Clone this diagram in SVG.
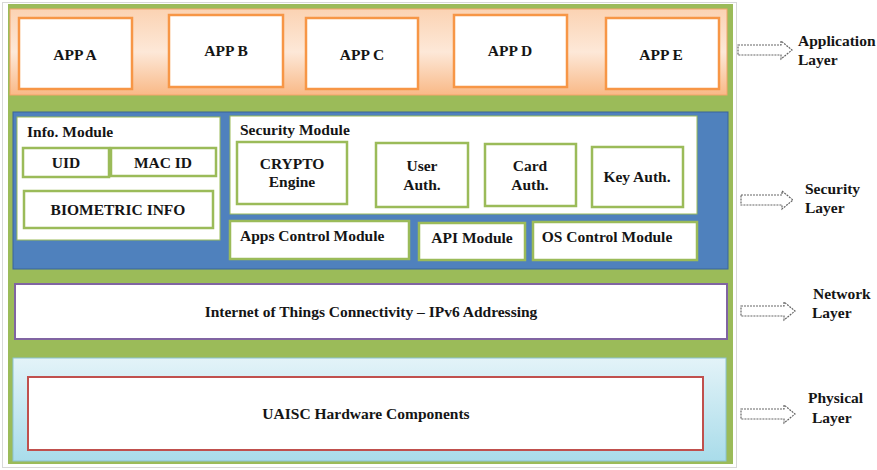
<svg xmlns="http://www.w3.org/2000/svg" width="877" height="470" viewBox="0 0 877 470">
<defs>
<linearGradient id="gOrange" x1="0" y1="0" x2="0" y2="1">
<stop offset="0" stop-color="#fbd3b3"/>
<stop offset="0.5" stop-color="#fde8d8"/>
<stop offset="1" stop-color="#f9b987"/>
</linearGradient>
<linearGradient id="gBlue" x1="0" y1="0" x2="0" y2="1">
<stop offset="0" stop-color="#e3f3f8"/>
<stop offset="1" stop-color="#a9dcea"/>
</linearGradient>
<style>
text{font-family:"Liberation Serif","Times New Roman",serif;font-weight:bold;font-size:15.5px;fill:#151515;}
.c{text-anchor:middle;}
.app{fill:#fff;stroke:#f79646;stroke-width:2.5;}
.gb{fill:#fff;stroke:#9bbb59;stroke-width:2.5;}
.wb{fill:#fff;stroke:#9bbb59;stroke-width:1;}
.arr{fill:#fff;stroke:#666;stroke-width:1.2;stroke-dasharray:2 1;}
</style>
</defs>
<rect x="2.5" y="2.5" width="734" height="465" fill="#fff" stroke="#d8d8d8" stroke-width="1"/>
<rect x="8" y="4" width="725" height="460" fill="#9bbb59"/>
<g id="application-layer">
<rect x="10" y="9" width="717" height="86" fill="url(#gOrange)" stroke="#f4a46a" stroke-width="1"/>
<g id="app-a"><rect class="app" x="19" y="18" width="113" height="71"/><text class="c" x="75" y="60">APP A</text></g>
<g id="app-b"><rect class="app" x="169" y="15" width="114" height="72"/><text class="c" x="226" y="56">APP B</text></g>
<g id="app-c"><rect class="app" x="306" y="18" width="112" height="71"/><text class="c" x="362" y="60">APP C</text></g>
<g id="app-d"><rect class="app" x="454" y="15" width="113" height="72"/><text class="c" x="510" y="56">APP D</text></g>
<g id="app-e"><rect class="app" x="606" y="18" width="113" height="71"/><text class="c" x="661" y="60">APP E</text></g>
</g>
<g id="security-layer">
<rect x="13" y="112" width="715" height="157" fill="#4f81bd" stroke="#3a6599" stroke-width="1"/>
<g id="info-module">
<rect class="wb" x="17" y="117" width="203" height="123"/>
<text x="27" y="137">Info. Module</text>
<g id="uid"><rect class="gb" x="23" y="148" width="86" height="29"/><text class="c" x="66" y="168">UID</text></g>
<g id="mac-id"><rect class="gb" x="111" y="148" width="105" height="28"/><text class="c" x="163" y="168">MAC ID</text></g>
<g id="biometric-info"><rect class="gb" x="24" y="191" width="189" height="37"/><text class="c" x="118" y="215">BIOMETRIC INFO</text></g>
</g>
<g id="security-module">
<rect class="wb" x="230" y="116" width="467" height="98"/>
<text x="240" y="135">Security Module</text>
<g id="crypto-engine"><rect class="gb" x="237" y="142" width="110" height="62"/><text class="c" x="292" y="169">CRYPTO</text><text class="c" x="292" y="187">Engine</text></g>
<g id="user-auth"><rect class="gb" x="376" y="143" width="92" height="64"/><text class="c" x="422" y="171">User</text><text class="c" x="422" y="190">Auth.</text></g>
<g id="card-auth"><rect class="gb" x="485" y="144" width="91" height="62"/><text class="c" x="530" y="171">Card</text><text class="c" x="530" y="190">Auth.</text></g>
<g id="key-auth"><rect class="gb" x="592" y="147" width="91" height="60"/><text class="c" x="637" y="182">Key Auth.</text></g>
</g>
<g id="apps-control-module"><rect class="gb" x="230" y="221" width="179" height="38"/><text x="240" y="241">Apps Control Module</text></g>
<g id="api-module"><rect class="gb" x="419" y="223" width="106" height="37"/><text class="c" x="472" y="243">API Module</text></g>
<g id="os-control-module"><rect class="gb" x="533" y="222" width="164" height="38"/><text class="c" x="607" y="242">OS Control Module</text></g>
</g>
<g id="network-layer">
<rect x="15" y="284" width="712" height="55" fill="#fff" stroke="#8064a2" stroke-width="2"/>
<text class="c" x="371" y="317">Internet of Things Connectivity – IPv6 Addressing</text>
</g>
<g id="physical-layer">
<rect x="13" y="358" width="713" height="103" fill="url(#gBlue)" stroke="#8cc3d3" stroke-width="1"/>
<rect x="28" y="377" width="675" height="73" fill="#fff" stroke="#c0504d" stroke-width="2"/>
<text class="c" x="366" y="419">UAISC Hardware Components</text>
</g>
<g id="connectors">
<path class="arr" d="M738 45 H781 V41 L792 50 L781 59 V55 H738 Z"/>
<path class="arr" d="M741 195 H782 V191 L793 200 L782 209 V205 H741 Z"/>
<path class="arr" d="M741 306 H784 V302 L795 311 L784 320 V316 H741 Z"/>
<path class="arr" d="M741 409 H784 V405 L795 414 L784 423 V419 H741 Z"/>
</g>
<g id="labels">
<text x="798" y="46">Application</text><text x="798" y="65">Layer</text>
<text x="805" y="194">Security</text><text x="805" y="213">Layer</text>
<text x="813" y="299">Network</text><text x="812" y="318">Layer</text>
<text x="808" y="403">Physical</text><text x="812" y="423">Layer</text>
</g>
</svg>
